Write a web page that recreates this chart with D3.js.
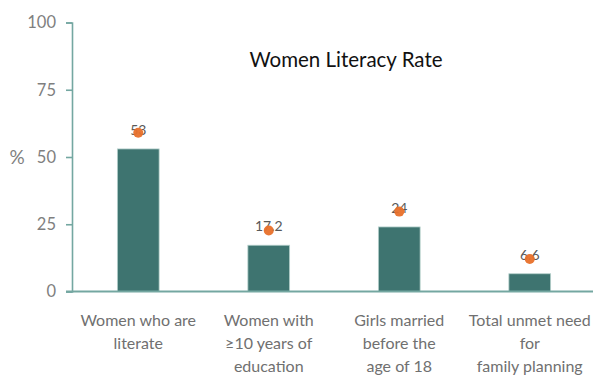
<!DOCTYPE html>
<html>
<head>
<meta charset="utf-8">
<script src="https://cdn.jsdelivr.net/npm/d3@7"></script>
<style>
  html, body { margin: 0; padding: 0; background: #fff; }
  svg { display: block; }
</style>
</head>
<body>
<svg id="chart" width="593" height="376"></svg>
<script>
// Indicators shown along the x axis (each split over lines)
const categories = [
  ["Women who are", "literate"],
  ["Women with", "≥10 years of", "education"],
  ["Girls married", "before the", "age of 18"],
  ["Total unmet need", "for", "family planning"]
];
const barValues = [53, 17.2, 24, 6.6];
const barLabels = ["53", "17.2", "24", "6.6"];
const dotValues = [59, 22.7, 29.7, 12.1];
const yTicks = [0, 25, 50, 75, 100];
const titleText = "Women Literacy Rate";
const yAxisLabel = "%";

const svg = d3.select("#chart");
const font = "Lato, 'Open Sans', sans-serif";
const axisColor = "#74a7a1";

const x = d3.scaleBand()
  .domain(d3.range(categories.length))
  .range([73, 595])
  .paddingInner(0.68)
  .paddingOuter(0.34);

const y = d3.scaleLinear().domain([0, 100]).range([291.5, 22.5]);

// Y axis
const yAxis = svg.append("g")
  .attr("transform", "translate(72,0)")
  .call(d3.axisLeft(y).tickValues(yTicks).tickSize(6).tickPadding(10));
yAxis.select(".domain").attr("stroke", axisColor).attr("stroke-width", 1.6);
yAxis.selectAll(".tick line").attr("stroke", axisColor).attr("stroke-width", 1.6);
yAxis.selectAll(".tick text")
  .attr("fill", "#7f7f7f")
  .style("font-family", font)
  .style("font-size", "16.5px");

svg.append("text")
  .attr("x", 17).attr("y", y(50) + 7)
  .attr("text-anchor", "middle")
  .attr("fill", "#7f7f7f")
  .style("font-family", font)
  .style("font-size", "19px")
  .text(yAxisLabel);

// Bars
svg.append("g").selectAll("rect")
  .data(barValues)
  .join("rect")
  .attr("x", (d, i) => x(i))
  .attr("y", d => y(d))
  .attr("width", x.bandwidth())
  .attr("height", d => y(0) - y(d))
  .attr("fill", "#3e7470")
  .attr("stroke", "#b7d1cd")
  .attr("stroke-width", 0.8);

// Baseline
svg.append("line")
  .attr("x1", 66).attr("x2", 593)
  .attr("y1", y(0)).attr("y2", y(0))
  .attr("stroke", axisColor)
  .attr("stroke-width", 2);

// Value labels above bars
svg.append("g").selectAll("text")
  .data(barValues)
  .join("text")
  .attr("x", (d, i) => x(i) + x.bandwidth() / 2)
  .attr("y", d => y(d) - 14)
  .attr("text-anchor", "middle")
  .attr("fill", "#595959")
  .style("font-family", font)
  .style("font-size", "14px")
  .text((d, i) => barLabels[i]);

// Orange markers
svg.append("g").selectAll("circle")
  .data(dotValues)
  .join("circle")
  .attr("cx", (d, i) => x(i) + x.bandwidth() / 2)
  .attr("cy", d => y(d))
  .attr("r", 5)
  .attr("fill", "#e8702a")
  .attr("fill-opacity", 0.95);

// Category labels
const catG = svg.append("g");
categories.forEach((lines, i) => {
  const t = catG.append("text")
    .attr("x", x(i) + x.bandwidth() / 2)
    .attr("y", 326)
    .attr("text-anchor", "middle")
    .attr("fill", "#707070")
    .style("font-family", font)
    .style("font-size", "16px");
  lines.forEach((ln, j) => {
    t.append("tspan")
      .attr("x", x(i) + x.bandwidth() / 2)
      .attr("y", 326 + j * 23)
      .text(ln);
  });
});

// Title
svg.append("text")
  .attr("x", 346).attr("y", 67)
  .attr("text-anchor", "middle")
  .attr("fill", "#111")
  .style("font-family", font)
  .style("font-size", "20.5px")
  .text(titleText);
</script>
</body>
</html>
